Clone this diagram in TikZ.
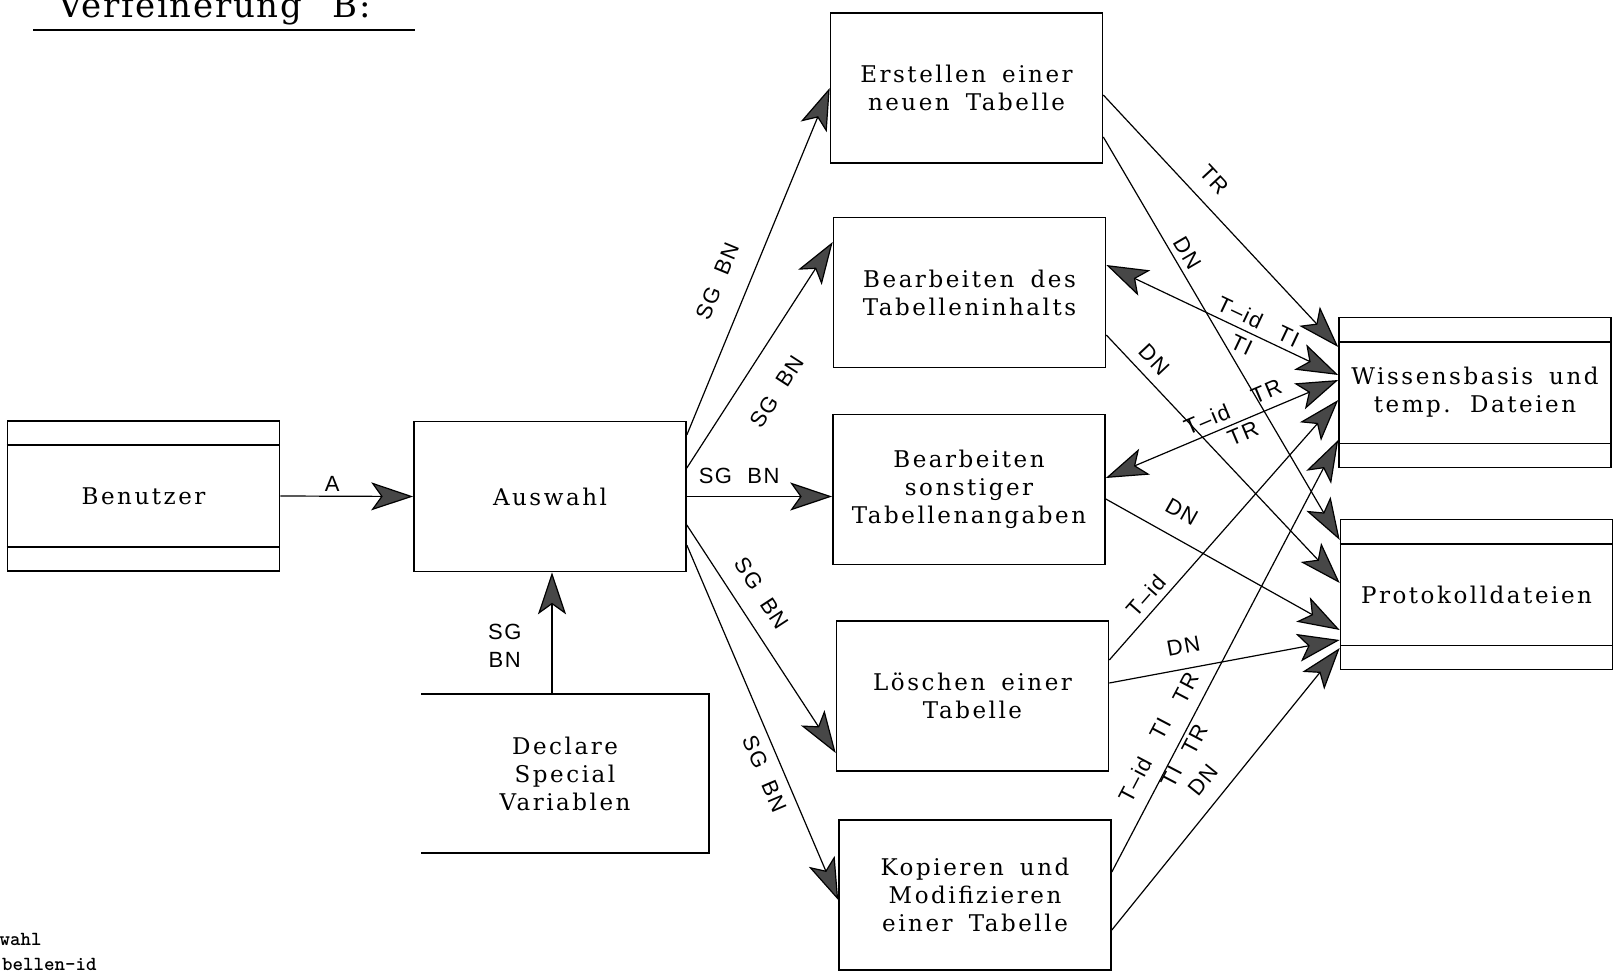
\documentclass[tikz,border=0pt]{standalone}
\usepackage{fontspec}
\usetikzlibrary{arrows.meta}
\newfontfamily\lblfam[LetterSpace=7]{Liberation Sans}
\newfontfamily\bxfam[LetterSpace=11]{DejaVu Serif}
\newfontfamily\ttlfam[LetterSpace=5]{DejaVu Serif}
% slab face for the process and store boxes
\newcommand\bxfont{\bxfam\fontsize{11.5}{14}\selectfont\spaceskip=0.7em plus 0.1em\relax}
\newcommand\ttlfont{\ttlfam\fontsize{17}{20}\selectfont\spaceskip=0.9em\relax}
\newcommand\lgfont{\ttfamily\bfseries\fontsize{10}{12}\selectfont}
\newcommand\lblfont{\lblfam\fontsize{11}{14}\selectfont}

\begin{document}
\begin{tikzpicture}[x=0.5pt,y=-0.5pt,
  box/.style={draw, line width=0.8pt, minimum width=136pt, minimum height=75pt,
              inner sep=0pt, align=center, font=\bxfont},
  flow/.style={line width=0.6pt, -{Stealth[length=21pt,width=14pt,inset=5pt,fill=black!72]}},
  both/.style={line width=0.6pt, {Stealth[length=21pt,width=14pt,inset=5pt,fill=black!72]}-{Stealth[length=21pt,width=14pt,inset=5pt,fill=black!72]}},
  lbl/.style={font=\lblfont, inner sep=0pt},
  slbl/.style={lbl, sloped}
]
\useasboundingbox (0,0) rectangle (1615,973);
\fill[white] (0,0) rectangle (1615,973);
\clip (0,0) rectangle (1615,973);

% heading
\node[anchor=base west, inner sep=0pt, font=\ttlfont] (title) at (58,18) {Verfeinerung B:};
\draw[line width=1pt] (33,30) -- (415,30);

% legend fragments at the lower left
\node[anchor=base east, inner sep=0pt, font=\lgfont] (leg1) at (42,945) {wahl};
\node[anchor=base east, inner sep=0pt, font=\lgfont] (leg2) at (97,970) {bellen-id};

% terminator, stores and processes
\node[box] (ben)  at (143.5,496)  {Benutzer};
\node[box] (aus)  at (550,496.5)  {Auswahl};
\node[box] (ers)  at (966.5,88)   {Erstellen einer\\neuen Tabelle};
\node[box] (bdes) at (969.5,292.5){Bearbeiten des\\Tabelleninhalts};
\node[box] (bson) at (969,489.5)  {Bearbeiten\\sonstiger\\Tabellenangaben};
\node[box] (loe)  at (972.5,696)  {Löschen einer\\Tabelle};
\node[box] (kop)  at (975,895)    {Kopieren und\\Modifizieren\\einer Tabelle};
\node[box] (wis)  at (1475,392.5) {Wissensbasis und\\temp. Dateien};
\node[box] (pro)  at (1476.5,594.5){Protokolldateien};
\node[box, draw=none, minimum width=143pt, minimum height=78.5pt] (decl) at (565,773.5)
      {Declare\\Special\\Variablen};
\draw[line width=0.8pt] (decl.north west) -- (decl.north east) -- (decl.south east) -- (decl.south west);

% data-store bands
\foreach \n in {ben,wis,pro}{
  \draw[line width=0.8pt] ([yshift=-12.5pt]\n.north west) -- ([yshift=-12.5pt]\n.north east);
  \draw[line width=0.8pt] ([yshift=12.5pt]\n.south west) -- ([yshift=12.5pt]\n.south east);
}

% left part
\draw[flow] (ben.east) -- node[lbl,pos=0.39,above=2.25pt]{A} (aus.west);
\draw[flow] ([xshift=-6.5pt]decl.north) -- node[lbl,pos=0.4,left=15pt,align=center]{SG\\BN}
            ([xshift=-6.5pt]decl.north |- aus.south);

% selection fans out to the processes
\draw[flow] ([yshift=30.75pt]aus.east) -- node[slbl,pos=0.41,above=11pt]{SG\ \ BN} (ers.west);
\draw[flow] ([yshift=14.25pt]aus.east) -- node[slbl,pos=0.42,below=13pt]{SG\ \ BN} ([yshift=25.25pt]bdes.west);
\draw[flow] (aus.east) -- node[lbl,pos=0.36,above=6pt]{SG\ \ BN} (aus.east -| bson.west);
\draw[flow] ([yshift=-14.25pt]aus.east) -- node[slbl,pos=0.36,above=8.5pt]{SG\ \ BN} ([yshift=-28.5pt]loe.west);
\draw[flow] ([yshift=-24.25pt]aus.east) -- node[slbl,pos=0.625,below=5pt]{SG\ \ BN} ([yshift=-2.5pt]kop.west);

% processes to the stores
\draw[flow] ([yshift=-3.5pt]ers.east) -- node[slbl,pos=0.40,above=7.5pt]{TR} ([yshift=22.75pt]wis.west);
\draw[flow] ([yshift=-24.5pt]ers.east) -- node[slbl,pos=0.305,above=3pt]{DN} ([yshift=27.25pt]pro.west);

\draw[both] ([yshift=13.75pt]bdes.east) --
      node[slbl,pos=0.55,above=3pt]{T\textendash id}
      node[slbl,pos=0.76,above=2.7pt]{TI}
      node[slbl,pos=0.61,below=3pt]{TI} ([yshift=8.75pt]wis.west);
\draw[flow] ([yshift=-21.25pt]bdes.east) -- node[slbl,pos=0.15,above=5pt]{DN} ([yshift=5.75pt]pro.west);

\draw[both] ([yshift=5.75pt]bson.east) --
      node[slbl,pos=0.46,above=3pt]{T\textendash id}
      node[slbl,pos=0.72,above=4.5pt]{TR}
      node[slbl,pos=0.57,below=2pt]{TR} ([yshift=6.25pt]wis.west);
\draw[flow] ([yshift=-4.75pt]bson.east) -- node[slbl,pos=0.27,above=9pt]{DN} ([yshift=-17.75pt]pro.west);

\draw[flow] ([yshift=18pt]loe.east) -- node[slbl,pos=0.21,above=3pt]{T\textendash id} ([yshift=-3.75pt]wis.west);
\draw[flow] ([yshift=6.5pt]loe.east) -- node[slbl,pos=0.34,above=7.3pt]{DN} ([yshift=-22.75pt]pro.west);

\draw[flow] ([yshift=11.5pt]kop.east) --
      node[slbl,pos=0.19,above=6.6pt]{T\textendash id}
      node[slbl,pos=0.306,above=7.5pt]{TI}
      node[slbl,pos=0.405,above=5.6pt]{TR}
      node[slbl,pos=0.23,below=0.5pt]{TI}
      node[slbl,pos=0.32,below=1.8pt]{TR} ([yshift=-23.75pt]wis.west);
\draw[flow] ([yshift=-17.5pt]kop.east) -- node[slbl,pos=0.48,above=7.7pt]{DN} ([yshift=-26.75pt]pro.west);
\end{tikzpicture}
\end{document}
